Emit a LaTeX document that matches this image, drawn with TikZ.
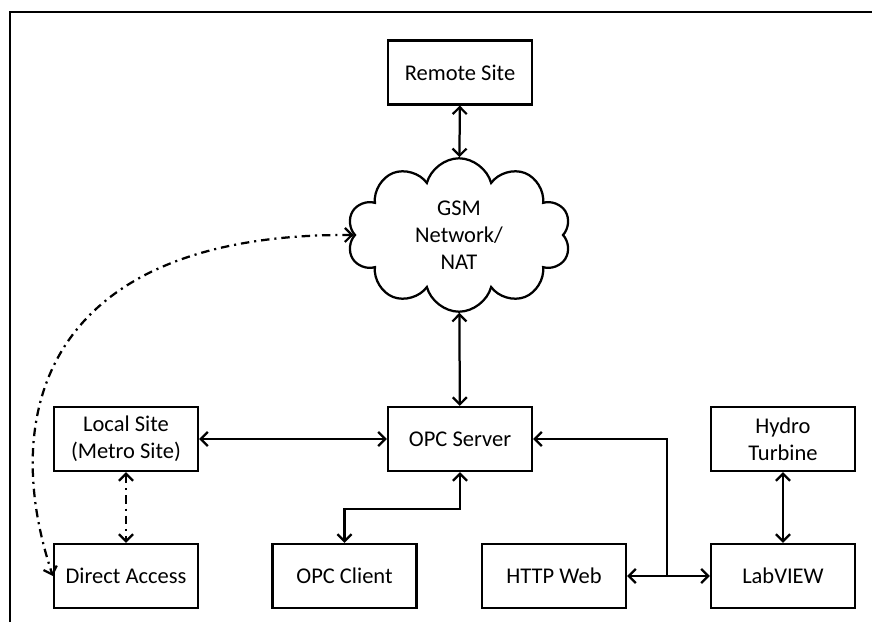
\documentclass[tikz,border=0pt]{standalone}
\usepackage{fontspec}
\setmainfont{Carlito}
\usepackage{tikz}
\usetikzlibrary{shapes.symbols,arrows.meta}

\begin{document}
\begin{tikzpicture}[
  line width=1.6pt,
  >={Straight Barb[length=5pt,width=10pt]},
  box/.style={draw, minimum width=3.6cm, minimum height=1.6cm, align=center,
    font=\fontsize{16pt}{19pt}\selectfont},
  net/.style={draw, cloud, cloud puffs=10, aspect=1.9, minimum width=5.4cm,
    minimum height=2.85cm, align=center, font=\fontsize{16pt}{19pt}\selectfont},
  dashdot/.style={dash pattern=on 6pt off 3.5pt on 1.5pt off 3.5pt}
]
\useasboundingbox (0,0) rectangle (21.8,15.55);
\draw (0.25,0)--(0.25,15.25)--(21.8,15.25);

\node[box] (remote) at (11.5,13.74) {Remote Site};
\node[net] (cloud) at (11.475,9.675) {GSM\\Network/\\NAT};

\node[box] (local) at (3.15,4.575) {Local Site\\(Metro Site)};
\node[box] (opcsrv) at (11.5,4.575) {OPC Server};
\node[box] (hydro) at (19.575,4.575) {Hydro\\Turbine};

\node[box] (direct) at (3.15,1.15) {Direct Access};
\node[box] (client) at (8.6125,1.15) {OPC Client};
\node[box] (http) at (13.85,1.15) {HTTP Web};
\node[box] (labview) at (19.575,1.15) {LabVIEW};

\draw[<->] (remote)--(cloud);
\draw[<->] (cloud)--(opcsrv);
\draw[<->] (local)--(opcsrv);
\draw[<->] (opcsrv.south)--++(0,-0.925)-|(client.north);
\draw[<->] (hydro)--(labview);
\draw[<->] (http)--(labview);
\coordinate (tee) at (16.675,1.15);
\draw[->] (tee)|-(opcsrv.east);

\draw[<->,dashdot] (local)--(direct);
\draw[<->,dashdot] (cloud.west) .. controls (1.3,9.725) and (-0.1,5.4) .. (direct.west);

\end{tikzpicture}
\end{document}
